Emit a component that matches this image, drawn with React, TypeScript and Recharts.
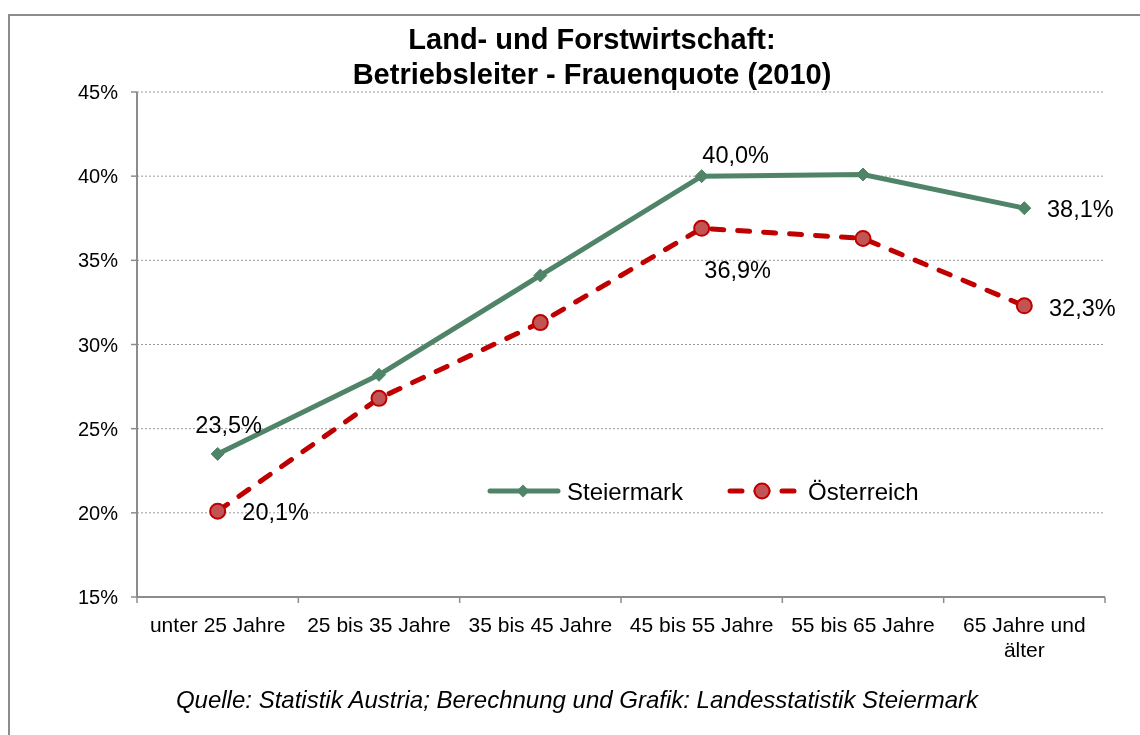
import React from "react";
import {
  LineChart,
  Line,
  XAxis,
  YAxis,
  CartesianGrid,
  Legend,
  LabelList,
} from "recharts";

const categories = [
  "unter 25 Jahre",
  "25 bis 35 Jahre",
  "35 bis 45 Jahre",
  "45 bis 55 Jahre",
  "55 bis 65 Jahre",
  "65 Jahre und älter",
];
const steiermark = [23.5, 28.2, 34.1, 40.0, 40.1, 38.1];
const oesterreich = [20.1, 26.8, 31.3, 36.9, 36.3, 32.3];
const yTicks = [15, 20, 25, 30, 35, 40, 45];
const seriesNames = ["Steiermark", "Österreich"];
const titleLines = ["Land- und Forstwirtschaft:", "Betriebsleiter - Frauenquote (2010)"];
const sourceText = "Quelle: Statistik Austria; Berechnung und Grafik: Landesstatistik Steiermark";

const data = categories.map((c, i) => ({
  i,
  cat: c,
  st: steiermark[i],
  at: oesterreich[i],
}));

const boundaryTicks = categories.map((_, i) => i - 0.5).concat([categories.length - 0.5]);
const centerTicks = categories.map((_, i) => i);
const domain: [number, number] = [-0.5, categories.length - 0.5];

const GREEN = "#4f8468";
const RED = "#c00000";
const RED_FILL = "#c25454";
const AXIS = "#8c8c8c";
const FONT = "'Liberation Sans', Arial, sans-serif";

const fmt = (v: number) => v.toFixed(1).replace(".", ",") + "%";

// label offsets (style only), keyed by point index
const stLabelOffsets: Record<number, [number, number]> = {
  0: [11, -29],
  3: [34, -21],
  5: [56, 1],
};
const atLabelOffsets: Record<number, [number, number]> = {
  0: [58, 1],
  3: [36, 42],
  5: [58, 2],
};

const makeLabel = (offsets: Record<number, [number, number]>) => (props: any) => {
  const { x, y, value, index } = props;
  const off = offsets[index];
  if (!off) return null;
  return (
    <text
      x={x + off[0]}
      y={y + off[1]}
      textAnchor="middle"
      dominantBaseline="central"
      fontSize={23.5}
      fontFamily={FONT}
      fill="#000"
    >
      {fmt(value)}
    </text>
  );
};

const Diamond = (props: any) => {
  const { cx, cy } = props;
  if (cx == null || cy == null) return null;
  const s = 6.5;
  return (
    <polygon
      points={`${cx},${cy - s} ${cx + s},${cy} ${cx},${cy + s} ${cx - s},${cy}`}
      fill={GREEN}
      stroke={GREEN}
      strokeWidth={1}
    />
  );
};

const Circle = (props: any) => {
  const { cx, cy } = props;
  if (cx == null || cy == null) return null;
  return <circle cx={cx} cy={cy} r={7.5} fill={RED_FILL} stroke={RED} strokeWidth={2} />;
};

const wrapWords = (text: string, max: number) => {
  const words = text.split(" ");
  const lines: string[] = [];
  let cur = "";
  words.forEach((w) => {
    const next = cur ? cur + " " + w : w;
    if (next.length > max && cur) {
      lines.push(cur);
      cur = w;
    } else {
      cur = next;
    }
  });
  if (cur) lines.push(cur);
  return lines;
};

const EmptyTick = () => <g />;

const CatTick = (props: any) => {
  const { x, y, payload } = props;
  const label = categories[payload.value] ?? "";
  const lines = wrapWords(label, 15);
  return (
    <g>
      {lines.map((l, k) => (
        <text
          key={k}
          x={x}
          y={y + 24 + k * 25}
          textAnchor="middle"
          dominantBaseline="central"
          fontSize={21}
          fontFamily={FONT}
          fill="#000"
        >
          {l}
        </text>
      ))}
    </g>
  );
};

const LegendContent = () => (
  <svg width={460} height={30} style={{ display: "block", overflow: "visible" }}>
    <line x1={2} y1={15} x2={70} y2={15} stroke={GREEN} strokeWidth={5} strokeLinecap="round" />
    <polygon points={`35,8.5 41.5,15 35,21.5 28.5,15`} fill={GREEN} />
    <text x={79} y={15} dominantBaseline="central" fontSize={24} fontFamily={FONT} fill="#000">
      {seriesNames[0]}
    </text>
    <line x1={242} y1={15} x2={306} y2={15} stroke={RED} strokeWidth={5} strokeLinecap="round" strokeDasharray="12 14" />
    <circle cx={274} cy={15} r={7.5} fill={RED_FILL} stroke={RED} strokeWidth={2} />
    <text x={320} y={15} dominantBaseline="central" fontSize={24} fontFamily={FONT} fill="#000">
      {seriesNames[1]}
    </text>
  </svg>
);

export default function App() {
  return (
    <div style={{ position: "relative", width: 1124, height: 719, fontFamily: FONT }}>
      <div
        style={{
          position: "fixed",
          left: 8,
          top: 14,
          right: -40,
          bottom: -40,
          border: `2px solid ${AXIS}`,
          boxSizing: "border-box",
          pointerEvents: "none",
        }}
      />
      <div
        style={{
          position: "absolute",
          left: 184,
          top: 14,
          width: 800,
          textAlign: "center",
          fontWeight: "bold",
          fontSize: 29,
          lineHeight: "35px",
          color: "#000",
          zIndex: 2,
        }}
      >
        {titleLines.map((t, k) => (
          <div key={k}>{t}</div>
        ))}
      </div>
      <div
        style={{
          position: "absolute",
          left: 69,
          top: 677,
          width: 1000,
          textAlign: "center",
          fontStyle: "italic",
          fontSize: 24,
          lineHeight: "30px",
          color: "#000",
        }}
      >
        {sourceText}
      </div>
      <div style={{ position: "absolute", left: 0, top: 0 }}>
        <LineChart
          width={1124}
          height={719}
          data={data}
          margin={{ top: 84, right: 27, left: 49, bottom: 39 }}
        >
          <CartesianGrid
            xAxisId="b"
            vertical={false}
            stroke="#9a9a9a"
            strokeDasharray="2 2"
          />
          <XAxis
            xAxisId="b"
            dataKey="i"
            type="number"
            domain={domain}
            ticks={boundaryTicks}
            allowDataOverflow
            tick={<EmptyTick />}
            tickSize={6}
            tickLine={{ stroke: AXIS, strokeWidth: 1.5 }}
            axisLine={{ stroke: AXIS, strokeWidth: 2 }}
            height={1}
            interval={0}
          />
          <XAxis
            xAxisId="l"
            dataKey="i"
            type="number"
            domain={domain}
            ticks={centerTicks}
            allowDataOverflow
            tick={<CatTick />}
            tickLine={false}
            tickSize={0}
            axisLine={false}
            height={60}
            interval={0}
          />
          <YAxis
            domain={[15, 45]}
            ticks={yTicks}
            allowDataOverflow
            width={80}
            tickFormatter={(v: number) => v + "%"}
            tick={{ fontSize: 20, fill: "#000", fontFamily: FONT }}
            tickSize={6}
            tickMargin={13}
            tickLine={{ stroke: AXIS, strokeWidth: 1.5 }}
            axisLine={{ stroke: AXIS, strokeWidth: 2 }}
            interval={0}
          />
          <Legend
            content={<LegendContent />}
            wrapperStyle={{ position: "absolute", left: 480, top: 468, width: 460, height: 30 }}
          />
          <Line
            xAxisId="b"
            dataKey="st"
            name={seriesNames[0]}
            stroke={GREEN}
            strokeWidth={5}
            dot={<Diamond />}
            activeDot={false}
            isAnimationActive={false}
          >
            <LabelList dataKey="st" content={makeLabel(stLabelOffsets)} />
          </Line>
          <Line
            xAxisId="b"
            dataKey="at"
            name={seriesNames[1]}
            stroke={RED}
            strokeWidth={5}
            strokeDasharray="12 14"
            strokeLinecap="round"
            dot={<Circle />}
            activeDot={false}
            isAnimationActive={false}
          >
            <LabelList dataKey="at" content={makeLabel(atLabelOffsets)} />
          </Line>
        </LineChart>
      </div>
    </div>
  );
}
